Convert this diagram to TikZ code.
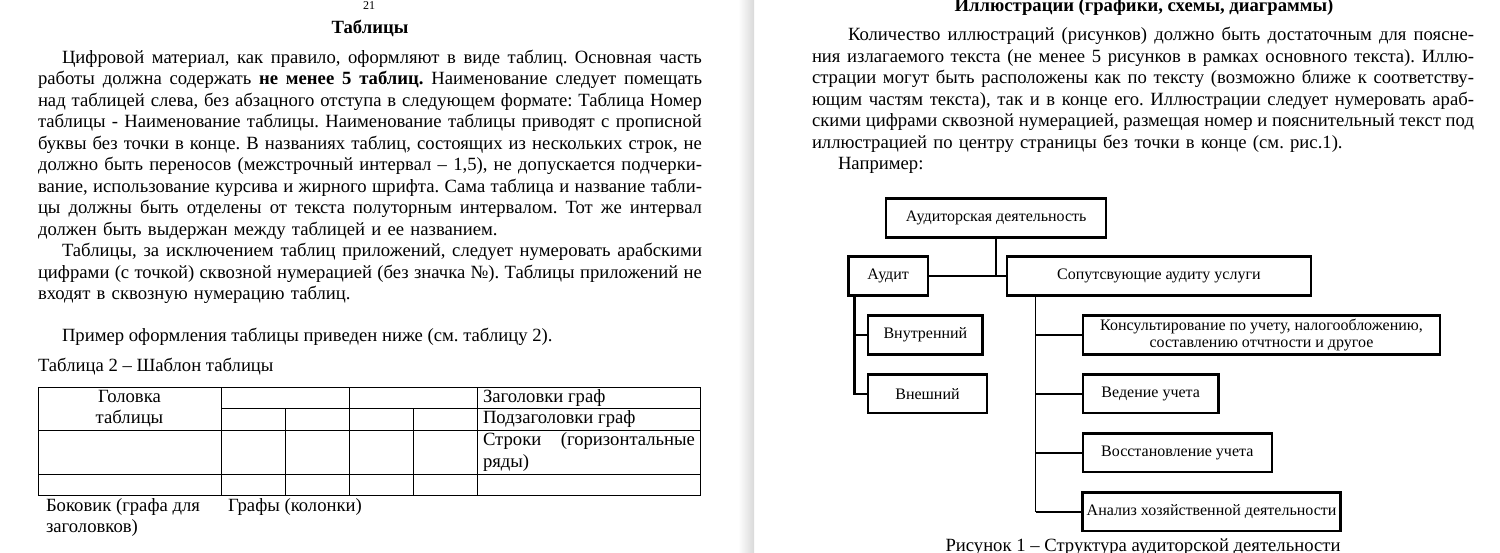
\documentclass[tikz,border=0pt]{standalone}
\usepackage{fontspec}
\setmainfont{Liberation Serif}

\tikzset{
  para/.style={inner sep=0pt, outer sep=0pt, anchor=north west, align=left, font=\fontsize{14}{16.125}\selectfont},
  word/.style={inner sep=0pt, outer sep=0pt, anchor=base west, font=\fontsize{14}{16.125}\selectfont},
  box/.style={draw, line width=1.9pt, inner sep=0pt, align=center, font=\fontsize{12}{12.75}\selectfont},
  conn/.style={line width=1.8pt},
  trunk/.style={line width=1pt},
  grid/.style={line width=0.75pt},
}
\newcommand{\jl}[2]{\makebox[#1][s]{\spaceskip=0.25em plus 1em minus 0.2em\relax #2}}
\frenchspacing

\begin{document}
\begin{tikzpicture}[x=0.75pt, y=-0.75pt]
			\useasboundingbox (0,0) rectangle (1500,553);
			\shade[left color=white, right color=black!15] (738,0) rectangle (754,553);

			% left page
			\node[word, anchor=base, font=\fontsize{9}{10}\selectfont] (pnum) at (369,9) {21};
			\node[word, anchor=base, font=\bfseries\fontsize{14}{16}\selectfont] (ttab) at (370,33) {Таблицы};

			\node[para, text width=498pt] (ptab) at (38,48) {\strut\hspace*{18pt}\jl{480pt}{Цифровой материал, как правило, оформляют в виде таблиц. Основная часть}\\
				\jl{498pt}{работы должна содержать \textbf{не менее 5 таблиц.} Наименование следует помещать}\\
				\jl{498pt}{над таблицей слева, без абзацного отступа в следующем формате: Таблица Номер}\\
				\jl{498pt}{таблицы - Наименование таблицы. Наименование таблицы приводят с прописной}\\
				\jl{498pt}{буквы без точки в конце. В названиях таблиц, состоящих из нескольких строк, не}\\
				\jl{498pt}{должно быть переносов (межстрочный интервал – 1,5), не допускается подчерки-}\\
				\jl{498pt}{вание, использование курсива и жирного шрифта. Сама таблица и название табли-}\\
				\jl{498pt}{цы должны быть отделены от текста полуторным интервалом. Тот же интервал}\\
				должен быть выдержан между таблицей и ее названием.\\
				\hspace*{18pt}\jl{480pt}{Таблицы, за исключением таблиц приложений, следует нумеровать арабскими}\\
				\jl{498pt}{цифрами (с точкой) сквозной нумерацией (без значка №). Таблицы приложений не}\\
				входят в сквозную нумерацию таблиц.};

			\node[word] (pex) at (62,341) {Пример оформления таблицы приведен ниже (см. таблицу 2).};
			\node[word] (tcap) at (38,371) {Таблица 2 – Шаблон таблицы};

			% table
			\draw[grid] (38,387) rectangle (700,495);
			\draw[grid] (221,408) -- (700,408);
			\draw[grid] (38,430) -- (700,430);
			\draw[grid] (38,474) -- (700,474);
			\draw[grid] (221,387) -- (221,495);
			\draw[grid] (349,387) -- (349,495);
			\draw[grid] (477,387) -- (477,495);
			\draw[grid] (285,408) -- (285,495);
			\draw[grid] (413,408) -- (413,495);

			\node[word, anchor=base] (head1) at (129.5,402) {Головка};
			\node[word, anchor=base] (head2) at (129.5,423) {таблицы};
			\node[word] (col1) at (483,402) {Заголовки граф};
			\node[word] (col2) at (483,423) {Подзаголовки граф};
			\node[word] (row1) at (483,445) {\jl{159pt}{Строки (горизонтальные}};
			\node[word] (row2) at (483,467) {ряды)};

			\node[word] (side1) at (46,511) {Боковик (графа для};
			\node[word] (side2) at (46,532) {заголовков)};
			\node[word] (cols) at (228,511) {Графы (колонки)};

			% right page
			\node[word, anchor=base, font=\bfseries\fontsize{14}{16}\selectfont] (till) at (1144,12) {Иллюстрации (графики, схемы, диаграммы)};

			\node[para, text width=496.5pt] (pill) at (812,25.5) {\strut\hspace*{27pt}\jl{469.5pt}{Количество иллюстраций (рисунков) должно быть достаточным для поясне-}\\
				\jl{496.5pt}{ния излагаемого текста (не менее 5 рисунков в рамках основного текста). Иллю-}\\
				\jl{496.5pt}{страции могут быть расположены как по тексту (возможно ближе к соответству-}\\
				\jl{496.5pt}{ющим частям текста), так и в конце его. Иллюстрации следует нумеровать араб-}\\
				\jl{496.5pt}{скими цифрами сквозной нумерацией, размещая номер и пояснительный текст под}\\
				иллюстрацией по центру страницы без точки в конце (см. рис.1).};

			\node[word] (pnap) at (838,169) {Например:};

			% scheme
			\node[box, minimum width=165pt, minimum height=29.6pt] (aud) at (996.2,218) {Аудиторская деятельность};
			\node[box, minimum width=59.9pt, minimum height=29.4pt] (audit) at (888.2,275.9) {Аудит};
			\node[box, minimum width=228.1pt, minimum height=29.4pt] (sop) at (1158.9,275.9) {Сопутсвующие аудиту услуги};
			\node[box, minimum width=85.9pt, minimum height=29.2pt] (vnutr) at (925.4,335) {Внутренний};
			\node[box, minimum width=89.2pt, minimum height=28.9pt] (vnesh) at (927.5,393.8) {Внешний};
			\node[box, minimum width=268pt, minimum height=29.2pt] (kons) at (1261.5,335) {Консультирование по учету, налогообложению,\\ составлению отчтности и другое};
			\node[box, minimum width=101.8pt, minimum height=29.1pt] (ved) at (1150.7,393.8) {Ведение учета};
			\node[box, minimum width=141.7pt, minimum height=29.1pt] (vosst) at (1177.3,452.7) {Восстановление учета};
			\node[box, minimum width=193.3pt, minimum height=29.1pt] (analiz) at (1211.6,511.7) {Анализ хозяйственной деятельности};

			\coordinate (atrunk) at ([xshift=5.5pt]audit.south west);
			\coordinate (strunk) at ([xshift=22.5pt]sop.south west);

			\draw[line width=1.2pt] (aud.south) -- (aud.south |- audit.east);
			\draw[conn] (audit.east) -- (sop.west);
			\draw[conn] (atrunk) |- (vnesh.west);
			\draw[conn] (atrunk |- vnutr.west) -- (vnutr.west);
			\draw[trunk] (strunk) -- (strunk |- analiz.west);
			\draw[conn] (strunk |- kons.west) -- (kons.west);
			\draw[conn] (strunk |- ved.west) -- (ved.west);
			\draw[conn] (strunk |- vosst.west) -- (vosst.west);
			\draw[conn] (strunk |- analiz.west) -- (analiz.west);

			\node[word, anchor=base] (fcap) at (1143,551) {Рисунок 1 – Структура аудиторской деятельности};
		\end{tikzpicture}
\end{document}
